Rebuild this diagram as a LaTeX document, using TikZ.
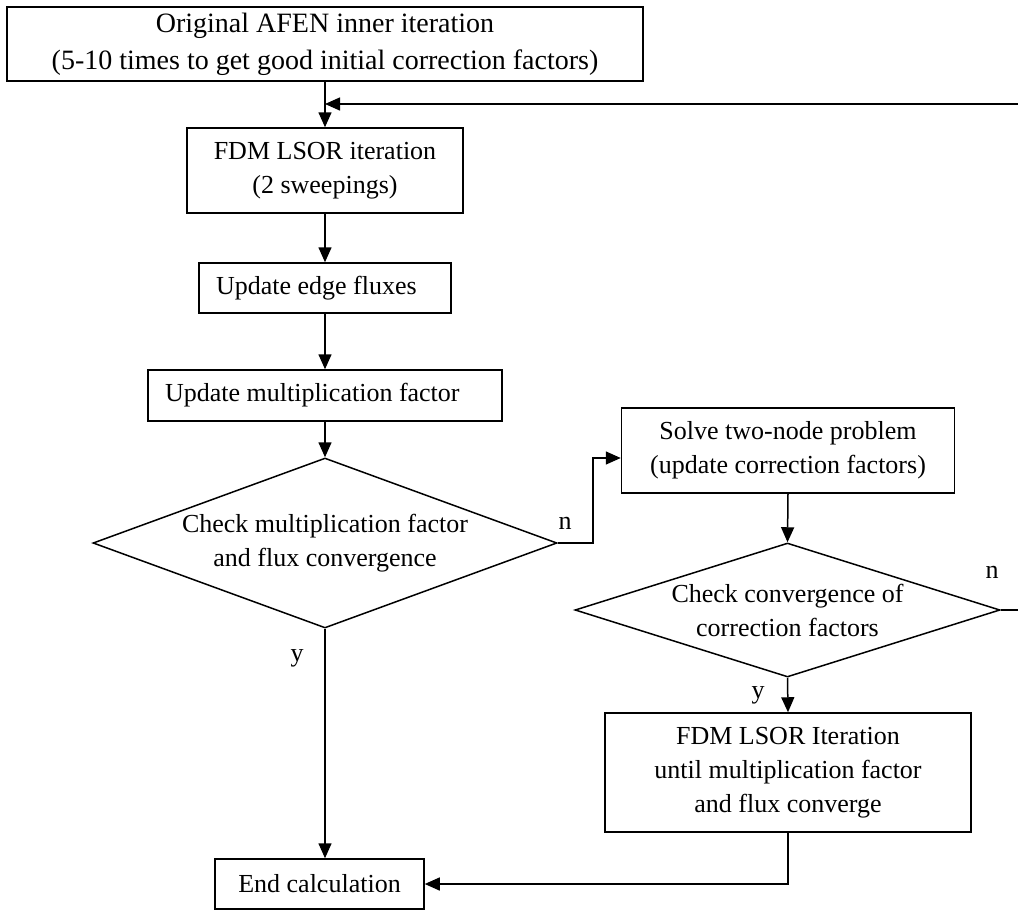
\documentclass[tikz,border=0pt]{standalone}
\usepackage{fontspec}
\setmainfont{Liberation Serif}
\usetikzlibrary{arrows.meta,shapes.geometric}
\begin{document}
\begin{tikzpicture}[>={Triangle[length=15pt,width=13pt]}, x=1pt, y=-1pt, line width=1.5pt,
  box/.style={draw, rectangle, inner sep=0pt, align=flush center, font=\fontsize{26}{34}\selectfont},
  lbox/.style={draw, rectangle, inner xsep=17pt, inner ysep=0pt, align=flush left, font=\fontsize{26}{34}\selectfont},
  decide/.style={draw, diamond, inner sep=0pt, align=flush center, font=\fontsize{26}{34}\selectfont},
  tag/.style={inner sep=0pt, font=\fontsize{26}{34}\selectfont}]
\useasboundingbox (0,0) rectangle (1018,911);
\clip (0,0) rectangle (1018,911);
% left column
\node[box, minimum width=636, minimum height=74, font=\fontsize{28}{37}\selectfont] (afen) at (325,44)
  {Original AFEN inner iteration\\(5-10 times to get good initial correction factors)};
\node[box, minimum width=276, minimum height=85] (lsor) at (325,170.5) {FDM LSOR iteration\\(2 sweepings)};
\node[lbox, text width=218, minimum height=50] (edge) at (325,288) {Update edge fluxes};
\node[lbox, text width=320, minimum height=51] (keff) at (325,395.5) {Update multiplication factor};
\node[decide, aspect=2.73, minimum width=464, minimum height=170] (conv) at (325,543)
  {Check multiplication factor\\and flux convergence};
\node[box, minimum width=209, minimum height=50] (stop) at (319.5,884) {End calculation};
% right column
\node[box, minimum width=333, minimum height=85] (twonode) at (788,450.5)
  {Solve two-node problem\\(update correction factors)};
\node[decide, aspect=3.17, minimum width=425, minimum height=134] (corr) at (787.5,610)
  {Check convergence of\\correction factors};
\node[box, minimum width=366, minimum height=119] (lsorit) at (788,772.5)
  {FDM LSOR Iteration\\until multiplication factor\\and flux converge};
% branch labels
\node[tag] (n1) at (565,523) {n};
\node[tag] (y1) at (297,658) {y};
\node[tag] (n2) at (992,572) {n};
\node[tag] (y2) at (758,695) {y};
\coordinate (nbend) at (593,458);
\coordinate (back) at (1030,104);
% connectors
\draw[->](afen.south)--(lsor.north);
\draw[->](lsor.south)--(edge.north);
\draw[->](edge.south)--(keff.north);
\draw[->](keff.south)--(conv.north);
\draw[->](conv.east)-|(nbend)--(twonode.west |- nbend);
\draw[->](conv.south)--(conv.south |- stop.north);
\draw[->](twonode.south)--(corr.north);
\draw[->](corr.south)--(lsorit.north);
\draw[->](lsorit.south)|-(stop.east);
\draw[->](corr.east)-|(back)--(afen.south |- back);

\end{tikzpicture}
\end{document}
